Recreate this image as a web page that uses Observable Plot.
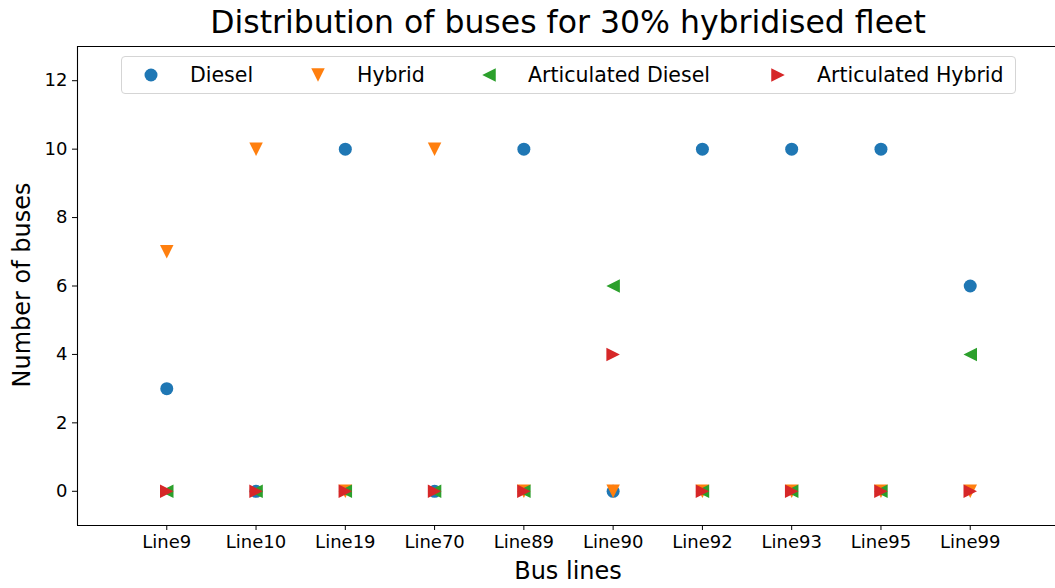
<!DOCTYPE html>
<html>
<head>
<meta charset="utf-8">
<script src="https://cdn.jsdelivr.net/npm/d3@7"></script>
<script src="https://cdn.jsdelivr.net/npm/@observablehq/plot@0.6"></script>
<style>
  html, body { margin: 0; padding: 0; background: #fff; overflow: hidden; }
  body { font-family: "DejaVu Sans", sans-serif; color: #000; }
  #wrap { position: relative; width: 1055px; height: 588px; }
  #title { position: absolute; left: 0; width: 1136px; top: 3px; text-align: center; font-size: 31.5px; line-height: 38px; white-space: nowrap; }
  #xlabel { position: absolute; left: 0; width: 1136px; top: 557px; text-align: center; font-size: 24px; line-height: 28px; white-space: nowrap; }
  #ylabel { position: absolute; left: 22px; top: 285px; font-size: 24px; line-height: 28px; white-space: nowrap; transform: translate(-50%, -50%) rotate(-90deg); }
  #legend { position: absolute; left: 121px; top: 56px; width: 895px; height: 38px; border: 1px solid #d5d5d5; border-radius: 4px; background: rgba(255,255,255,0.8); box-sizing: border-box; font-size: 20.5px; white-space: nowrap; }
  .item { position: absolute; top: 0; height: 36px; display: flex; align-items: center; }
  .item svg { width: 20px; height: 20px; margin-right: 29px; flex-shrink: 0; }
  .item span { white-space: nowrap; }
  #chart { position: absolute; left: 0; top: 0; }
</style>
</head>
<body>
<div id="wrap">
  <div id="chart"></div>
  <div id="title"></div>
  <div id="legend"></div>
  <div id="xlabel"></div>
  <div id="ylabel"></div>
</div>
<script>
// ---- data ----
const titleText = "Distribution of buses for 30% hybridised fleet";
const xLabel = "Bus lines";
const yLabel = "Number of buses";
const lines = ["Line9", "Line10", "Line19", "Line70", "Line89", "Line90", "Line92", "Line93", "Line95", "Line99"];
const diesel    = [3, 0, 10, 0, 10, 0, 10, 10, 10, 6];
const hybrid    = [7, 10, 0, 10, 0, 0, 0, 0, 0, 0];
const artDiesel = [0, 0, 0, 0, 0, 6, 0, 0, 0, 4];
const artHybrid = [0, 0, 0, 0, 0, 4, 0, 0, 0, 0];
const seriesNames = ["Diesel", "Hybrid", "Articulated Diesel", "Articulated Hybrid"];
const seriesColors = ["#1f77b4", "#ff7f0e", "#2ca02c", "#d62728"];
const yTicks = [0, 2, 4, 6, 8, 10, 12];

// ---- symbols ----
const circleSym = {draw(ctx, size) { const r = Math.sqrt(size / Math.PI); ctx.moveTo(r, 0); ctx.arc(0, 0, r, 0, 2 * Math.PI); }};
const downSym = {draw(ctx, size) { const h = Math.sqrt(size / Math.PI); ctx.moveTo(0, h); ctx.lineTo(-h, -h); ctx.lineTo(h, -h); ctx.closePath(); }};
const leftSym = {draw(ctx, size) { const h = Math.sqrt(size / Math.PI); ctx.moveTo(-h, 0); ctx.lineTo(h, -h); ctx.lineTo(h, h); ctx.closePath(); }};
const rightSym = {draw(ctx, size) { const h = Math.sqrt(size / Math.PI); ctx.moveTo(h, 0); ctx.lineTo(-h, -h); ctx.lineTo(-h, h); ctx.closePath(); }};
const symbols = [circleSym, downSym, leftSym, rightSym];
const radii = [6.5, 6.75, 6.75, 6.75];

const seriesValues = [diesel, hybrid, artDiesel, artHybrid];
const table = seriesValues.map((vals, s) => vals.map((v, i) => ({i, line: lines[i], value: v, series: seriesNames[s]})));

const marks = [
  Plot.ruleX([-1], {stroke: "#000", strokeWidth: 1.1}),
  Plot.ruleX([10], {stroke: "#000", strokeWidth: 1.1}),
  Plot.ruleY([-1], {stroke: "#000", strokeWidth: 1.1}),
  Plot.ruleY([13], {stroke: "#000", strokeWidth: 1.1}),
  Plot.axisX(d3.range(lines.length), {tickFormat: i => lines[i], tickSize: 5, tickPadding: 5, fontSize: 18, label: null, stroke: "#000", fill: "#000"}),
  Plot.axisY(yTicks, {tickSize: 5, tickPadding: 5, fontSize: 18, label: null, stroke: "#000", fill: "#000"})
];
table.forEach((rows, s) => {
  marks.push(Plot.dot(rows, {x: "i", y: "value", fill: seriesColors[s], stroke: "none", symbol: symbols[s], r: radii[s]}));
});

const chart = Plot.plot({
  width: 1055,
  height: 588,
  marginTop: 46,
  marginBottom: 63,
  marginLeft: 77,
  marginRight: 0,
  style: {fontFamily: "DejaVu Sans, sans-serif", background: "#fff", overflow: "visible", color: "#000"},
  x: {type: "linear", domain: [-1, 10], range: [77, 1059]},
  y: {domain: [-1, 13]},
  marks
});
document.getElementById("chart").appendChild(chart);

document.getElementById("title").textContent = titleText;
document.getElementById("xlabel").textContent = xLabel;
document.getElementById("ylabel").textContent = yLabel;

// legend (marker centres relative to legend box left edge)
const legendOffsets = [29, 196, 367, 656];
const legend = document.getElementById("legend");
seriesNames.forEach((name, s) => {
  const item = document.createElement("div");
  item.className = "item";
  item.style.left = (legendOffsets[s] - 10) + "px";
  const svg = d3.create("svg").attr("viewBox", "-10 -10 20 20");
  const p = d3.path();
  symbols[s].draw(p, radii[s] * radii[s] * Math.PI);
  svg.append("path").attr("d", p.toString()).attr("fill", seriesColors[s]);
  item.appendChild(svg.node());
  const span = document.createElement("span");
  span.textContent = name;
  item.appendChild(span);
  legend.appendChild(item);
});
</script>
</body>
</html>
